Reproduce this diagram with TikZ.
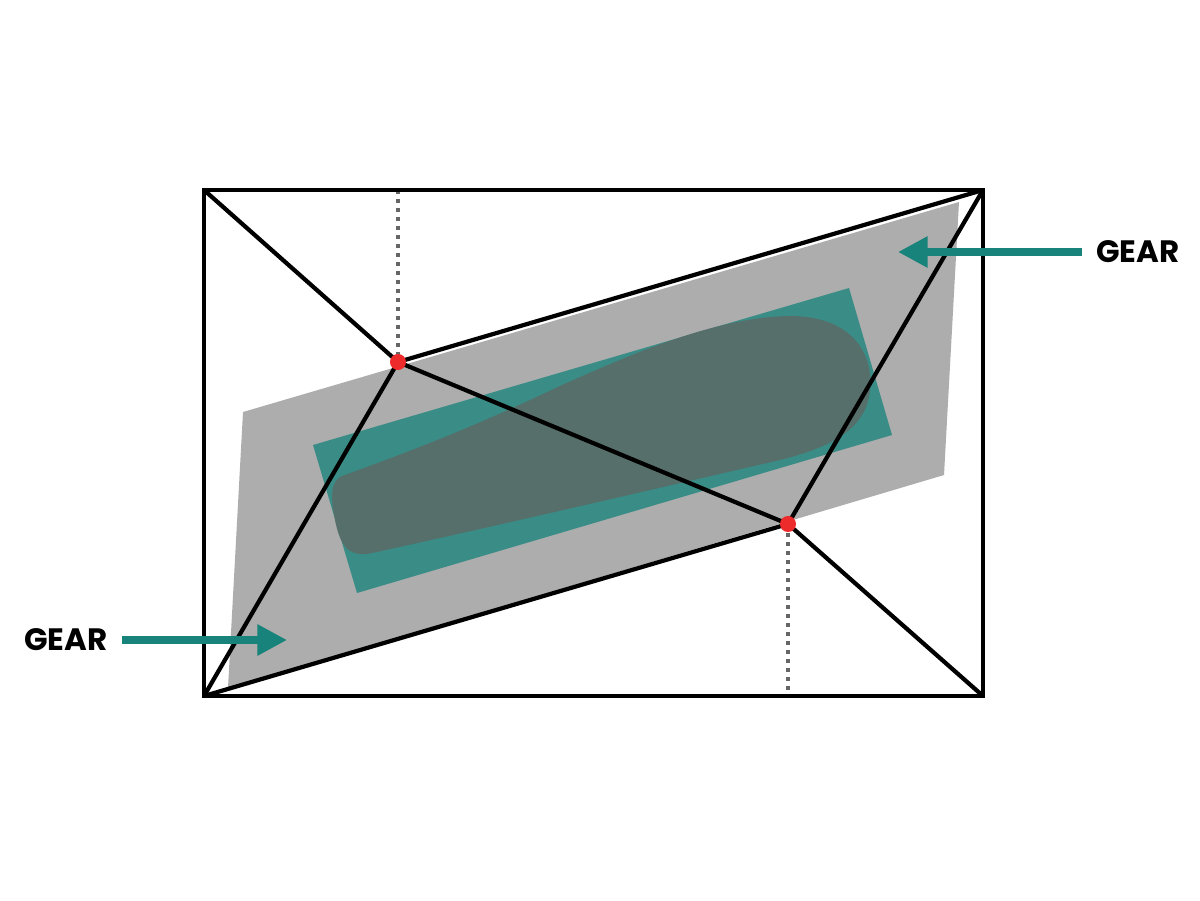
\documentclass[tikz,border=0pt]{standalone}
\usepackage{fontspec}
\setmainfont{Poppins}
\usetikzlibrary{arrows.meta}

\definecolor{gearteal}{HTML}{17837A}
\definecolor{plategray}{HTML}{ADADAD}
\definecolor{boxteal}{HTML}{3A8C86}
\definecolor{footgray}{HTML}{566F6A}
\definecolor{pinred}{HTML}{EE2B2B}
\definecolor{dotgray}{HTML}{666666}

\begin{document}
\begin{tikzpicture}[x=0.025cm,y=-0.025cm,
  frame/.style={line width=3.4pt,line join=miter},
  ray/.style={line width=3pt,line join=round},
  plumb/.style={dotgray,line width=2.8pt,dash pattern=on 2.8pt off 3.6pt},
  pin/.style={circle,fill=pinred,draw=none,inner sep=0pt,minimum size=11.4pt},
  gear/.style={font=\bfseries\fontsize{22}{26}\selectfont,inner ysep=0pt,inner xsep=10pt},
  pointer/.style={gearteal,line width=5pt,-{Triangle[length=21pt,width=21pt]}}]

\useasboundingbox[fill=white] (0,0) rectangle (1200,900);

\coordinate (tl) at (204,190);
\coordinate (tr) at (983,190);
\coordinate (bl) at (204,696);
\coordinate (br) at (983,696);
\coordinate (q1) at (398,362);
\coordinate (q2) at (788,524);
\coordinate (top1) at (398,190);
\coordinate (bot2) at (788,696);

\fill[plategray] (243,412) -- (959,202) -- (944,475) -- (228,688) -- cycle;
\fill[boxteal] (313,445) -- (849,288) -- (892,435) -- (357,593) -- cycle;
\fill[footgray] (342,476) .. controls (420,448) and (480,424) .. (560,386)
  .. controls (640,350) and (720,317) .. (790,316)
  .. controls (850,316) and (874,352) .. (870,390)
  .. controls (866,425) and (840,445) .. (780,460)
  .. controls (650,490) and (500,525) .. (372,553)
  .. controls (348,558) and (340,545) .. (335,520)
  .. controls (330,495) and (331,481) .. (342,476) -- cycle;

\draw[plumb] (top1) -- (q1);
\draw[plumb] (q2) -- (bot2);

\draw[frame] (tl) rectangle (br);
\draw[ray] (tl) -- (q1) -- (q2) -- (br);
\draw[ray] (bl) -- (q1) -- (tr);
\draw[ray] (bl) -- (q2) -- (tr);

\node[pin] (p1) at (q1) {};
\node[pin] (p2) at (q2) {};

\node[gear,anchor=west] (gearR) at (1082,252) {GEAR};
\node[gear,anchor=east] (gearL) at (122,640) {GEAR};
\coordinate (tipR) at (898,252);
\coordinate (tipL) at (287,640);
\draw[pointer] (gearR.west) -- (tipR);
\draw[pointer] (gearL.east) -- (tipL);

\end{tikzpicture}
\end{document}
